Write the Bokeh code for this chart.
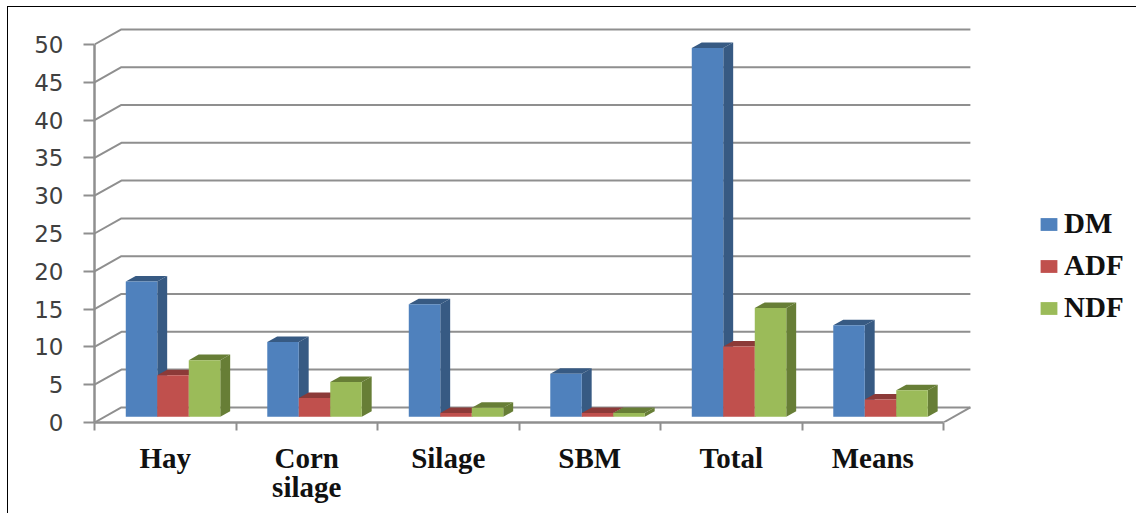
from bokeh.embed import file_html
from bokeh.models import FixedTicker, Legend, LegendItem, LinearAxis, Range1d
from bokeh.plotting import figure
from bokeh.resources import INLINE

# Feed components and their dry matter, ADF and NDF contents
categories = ["Hay", "Corn\nsilage", "Silage", "SBM", "Total", "Means"]
dm_values = [17.9, 9.9, 14.9, 5.7, 48.8, 12.1]
adf_values = [5.5, 2.5, 0.5, 0.5, 9.3, 2.3]
ndf_values = [7.5, 4.6, 1.2, 0.5, 14.4, 3.5]
y_ticks = [0, 5, 10, 15, 20, 25, 30, 35, 40, 45, 50]

series = [
    ("DM", dm_values, "#4f81bd", "#375a83"),
    ("ADF", adf_values, "#c0504d", "#8c3a38"),
    ("NDF", ndf_values, "#9bbb59", "#677e36"),
]

# Pseudo-3D geometry, in axis units
BAR_W = 0.2226
GROUP_PAD = 0.221
BASE = 0.75
DEPTH_X = 0.07
DEPTH_Y = 0.73
WALL_X = 0.19
WALL_Y = 2.0
N = len(categories)
GRID = "#8f8f8f"

W, H = 1136, 513
LEFT, BOTTOM = 94, 91

p = figure(
    width=W, height=H, output_backend="svg", toolbar_location=None,
    x_range=Range1d(0, (W - LEFT) / 141.5),
    y_range=Range1d(0, (H - BOTTOM) / 7.56),
    x_axis_type=None, y_axis_type=None,
    min_border_left=LEFT, min_border_bottom=BOTTOM, min_border_top=0, min_border_right=0,
    outline_line_color=None, background_fill_color="white", border_fill_color="white",
)
p.grid.visible = False

# Thin rule along the top and left of the page
p.stylesheets = [
    ":host::after{content:'';position:absolute;left:7px;top:6px;right:0;bottom:0;"
    "border-left:1.5px solid #000;border-top:1.5px solid #000;pointer-events:none;}"
]

# Back wall gridlines and the floor
wall_xs = [[0, WALL_X, N + WALL_X] for _ in y_ticks]
wall_ys = [[v, v + WALL_Y, v + WALL_Y] for v in y_ticks]
p.multi_line(wall_xs, wall_ys, line_color=GRID, line_width=2)
p.line([N, N + WALL_X], [0, WALL_Y], line_color=GRID, line_width=2)

# Bars: side and top faces first, then the front face
legend_items = []
for s, (name, values, color, dark) in enumerate(series):
    lefts = [i + GROUP_PAD + s * BAR_W for i in range(N)]
    rights = [x + BAR_W for x in lefts]
    tops = [BASE + v for v in values]
    side_xs = [[r, r + DEPTH_X, r + DEPTH_X, r] for r in rights]
    side_ys = [[BASE, BASE + DEPTH_Y, t + DEPTH_Y, t] for t in tops]
    top_xs = [[l, l + DEPTH_X, r + DEPTH_X, r] for l, r in zip(lefts, rights)]
    top_ys = [[t, t + DEPTH_Y, t + DEPTH_Y, t] for t in tops]
    p.patches(side_xs, side_ys, fill_color=dark, line_color=None)
    p.patches(top_xs, top_ys, fill_color=dark, line_color=None)
    front = p.quad(left=lefts, right=rights, bottom=BASE, top=tops,
                   fill_color=color, line_color=None)
    legend_items.append(LegendItem(label=name, renderers=[front]))

# Axes along the front edge of the floor
y_axis = LinearAxis(
    ticker=FixedTicker(ticks=y_ticks), bounds=(0, 50),
    axis_line_color=GRID, axis_line_width=2.5,
    major_tick_line_color=GRID, major_tick_line_width=2,
    major_tick_out=11, major_tick_in=0,
    major_label_standoff=20,
    major_label_text_font="DejaVu Sans", major_label_text_font_size="23px",
    major_label_text_color="#404040",
)
p.add_layout(y_axis, "left")

x_axis = LinearAxis(
    ticker=FixedTicker(ticks=[i + 0.5 for i in range(N)], minor_ticks=list(range(N + 1))),
    bounds=(0, N),
    major_label_overrides={i + 0.5: c for i, c in enumerate(categories)},
    axis_line_color=GRID, axis_line_width=2.5,
    major_tick_out=0, major_tick_in=0,
    minor_tick_line_color=GRID, minor_tick_line_width=2,
    minor_tick_out=8, minor_tick_in=0,
    major_label_standoff=11,
    major_label_text_font="Liberation Serif", major_label_text_font_style="bold",
    major_label_text_font_size="29px", major_label_text_color="#111111",
    major_label_text_line_height=0.92,
)
p.add_layout(x_axis, "below")

legend = Legend(
    items=legend_items, location=(944, 98),
    background_fill_alpha=0, border_line_color=None,
    label_text_font="Liberation Serif", label_text_font_style="bold",
    label_text_font_size="29px", label_text_color="#111111",
    glyph_width=21, glyph_height=16, spacing=9, label_standoff=5, margin=0, padding=4,
)
p.add_layout(legend, "center")

open("out.html", "w").write(file_html(p, INLINE))
